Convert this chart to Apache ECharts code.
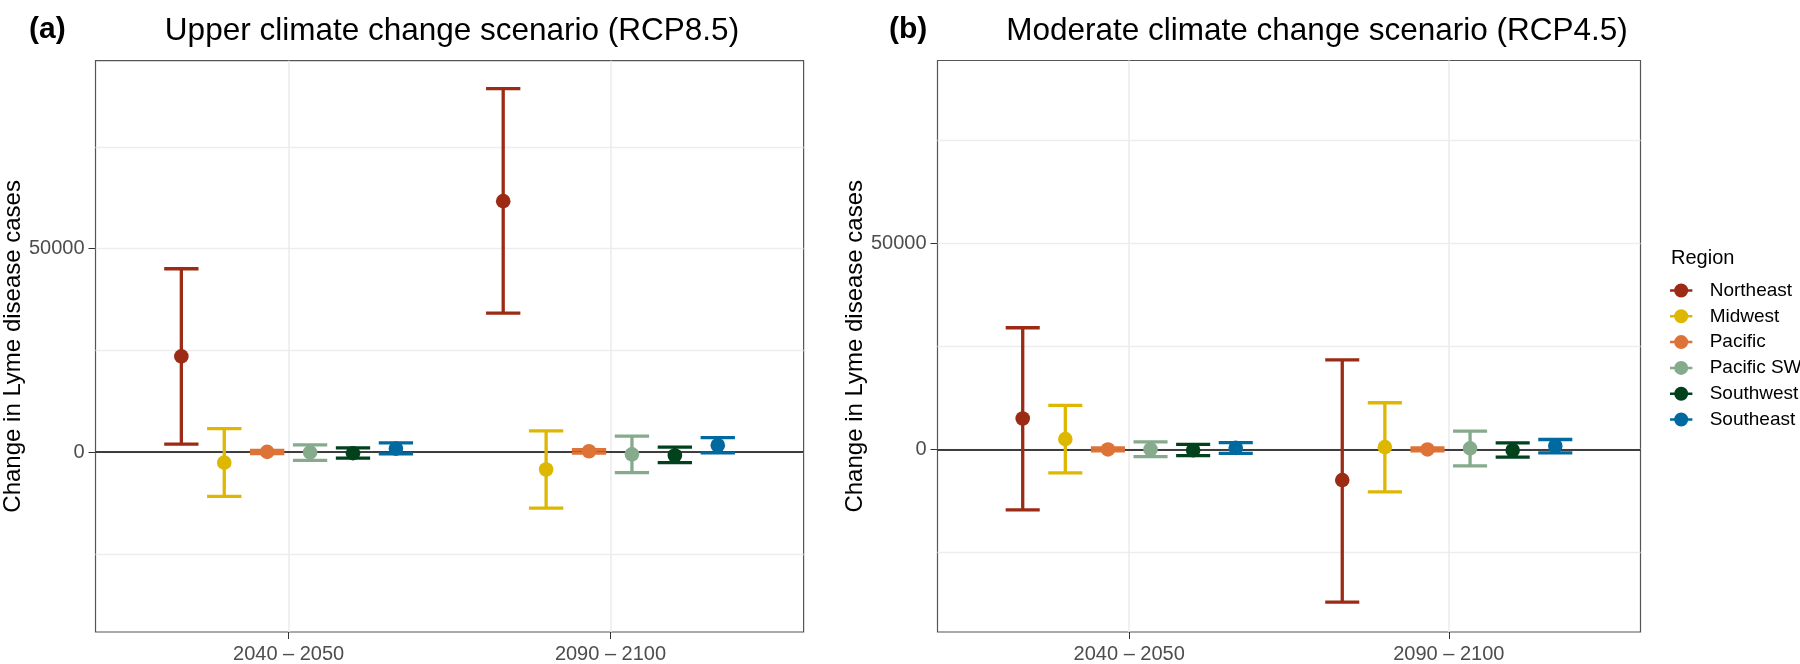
<!DOCTYPE html>
<html>
<head>
<meta charset="utf-8">
<script src="https://cdn.jsdelivr.net/npm/echarts@6/dist/echarts.min.js"></script>
<style>
html,body{margin:0;padding:0;background:#fff;}
#chart{width:1800px;height:664px;}
</style>
</head>
<body>
<div id="chart"></div>
<script>
// ---- data ----
const regions = ['Northeast', 'Midwest', 'Pacific', 'Pacific SW', 'Southwest', 'Southeast'];
const regionColors = ['#9B2B14', '#DDB700', '#DE7338', '#85AA8C', '#01411C', '#0069A0'];
const periods = ['2040 \u2013 2050', '2090 \u2013 2100'];
const yTickLabels = [0, 50000];
const yMinorGrid = [-25000, 0, 25000, 50000, 75000];

// RCP8.5 (upper scenario): per region [2040-2050, 2090-2100]
const rcp85Mean  = [[23500, 61660], [-2610, -4290], [50, 190], [-100, -560], [-280, -840], [840, 1680]];
const rcp85Lower = [[1960, 34140], [-10900, -13800], [-350, -250], [-2050, -5040], [-1490, -2610], [-470, -190]];
const rcp85Upper = [[45050, 89300], [5780, 5220], [400, 600], [1770, 3920], [1030, 1210], [2240, 3540]];

// RCP4.5 (moderate scenario)
const rcp45Mean  = [[7510, -7420], [2500, 560], [0, 0], [0, 280], [-190, -190], [370, 830]];
const rcp45Lower = [[-14660, -37000], [-5660, -10300], [-350, -350], [-1760, -3990], [-1480, -1860], [-930, -830]];
const rcp45Upper = [[29500, 21700], [10670, 11320], [350, 350], [1860, 4450], [1210, 1580], [1670, 2410]];

// ---- layout ----
const FONT = 'Liberation Sans, Arial, Helvetica, sans-serif';
const dodge = 0.8 / 6;
const capHalf = 0.0533;

function renderItem(params, api) {
  const x = api.value(0), lo = api.value(1), hi = api.value(2), m = api.value(3);
  const pLo = api.coord([x, lo]), pHi = api.coord([x, hi]), pM = api.coord([x, m]);
  const xl = api.coord([x - capHalf, hi])[0], xr = api.coord([x + capHalf, hi])[0];
  const color = api.visual('color');
  const ls = {stroke: color, lineWidth: 3.3, fill: null};
  return {
    type: 'group',
    children: [
      {type: 'line', shape: {x1: pLo[0], y1: pLo[1], x2: pHi[0], y2: pHi[1]}, style: ls},
      {type: 'line', shape: {x1: xl, y1: pHi[1], x2: xr, y2: pHi[1]}, style: ls},
      {type: 'line', shape: {x1: xl, y1: pLo[1], x2: xr, y2: pLo[1]}, style: ls},
      {type: 'circle', shape: {cx: pM[0], cy: pM[1], r: 7.3}, style: {fill: color}}
    ]
  };
}

function buildSeries(gridIdx, mean, lower, upper) {
  return regions.map((name, i) => {
    const data = periods.map((p, j) => [j + 1 + (i - 2.5) * dodge, lower[i][j], upper[i][j], mean[i][j]]);
    const s = {
      type: 'custom',
      name: name,
      xAxisIndex: gridIdx,
      yAxisIndex: gridIdx * 2,
      renderItem: renderItem,
      itemStyle: {color: regionColors[i]},
      encode: {x: 0, y: [1, 2, 3]},
      data: data,
      z: 3,
      silent: true
    };
    if (i === 0) {
      s.markLine = {
        silent: true, symbol: 'none', z: 2,
        label: {show: false},
        lineStyle: {color: '#000', width: 1.5, type: 'solid'},
        emphasis: {disabled: true},
        data: [{yAxis: 0}]
      };
    }
    return s;
  });
}

const grids = [
  {left: 94, top: 60.7, width: 709.6, height: 576, show: true, borderColor: '#555', borderWidth: 1.2, backgroundColor: '#fff'},
  {left: 937.5, top: 60.5, width: 703, height: 571.5, show: true, borderColor: '#555', borderWidth: 1.2, backgroundColor: '#fff'}
];
const yRanges = [[-44220, 96170], [-44250, 94280]];

function xAxis(gi) {
  return {
    type: 'value', gridIndex: gi, min: 0.4, max: 2.6,
    axisLine: {show: false, onZero: false},
    axisTick: {show: true, length: 7, lineStyle: {color: '#333', width: 1}, customValues: [1, 2]},
    axisLabel: {show: true, customValues: [1, 2], color: '#4D4D4D', fontSize: 20, fontFamily: FONT, margin: 12,
      formatter: v => periods[Math.round(v) - 1]},
    splitLine: {show: true, lineStyle: {color: '#EBEBEB', width: 1.5}}
  };
}
function yAxes(gi) {
  return [{
    type: 'value', gridIndex: gi, min: yRanges[gi][0], max: yRanges[gi][1],
    name: 'Change in Lyme disease cases', nameLocation: 'middle', nameGap: 65, nameRotate: 90,
    nameTextStyle: {fontSize: 24, fontFamily: FONT, color: '#000'},
    axisLine: {show: false, onZero: false},
    axisTick: {show: true, length: 7, lineStyle: {color: '#333', width: 1}, customValues: yTickLabels},
    axisLabel: {show: true, customValues: yTickLabels, color: '#4D4D4D', fontSize: 20, fontFamily: FONT, margin: 11,
      formatter: v => String(v)},
    splitLine: {show: false}
  }, {
    type: 'value', gridIndex: gi, min: yRanges[gi][0], max: yRanges[gi][1],
    axisLine: {show: false, onZero: false},
    axisTick: {show: false, customValues: yMinorGrid},
    axisLabel: {show: false},
    splitLine: {show: true, lineStyle: {color: '#EDEDED', width: 1.3}}
  }];
}

const legendIcon = 'path://M0,5.7 L23,5.7 L23,8.3 L0,8.3 Z M4.3,7 A7.2,7.2 0 1,1 18.7,7 A7.2,7.2 0 1,1 4.3,7 Z';

const option = {
  animation: false,
  backgroundColor: '#fff',
  title: [
    {text: '(a)', left: 29, top: 15, padding: 0, textStyle: {fontSize: 30, fontWeight: 'bold', fontFamily: FONT, color: '#000'}},
    {text: 'Upper climate change scenario (RCP8.5)', left: 452, top: 15, padding: 0, textAlign: 'center',
      textStyle: {fontSize: 31.5, fontWeight: 'normal', fontFamily: FONT, color: '#000'}},
    {text: '(b)', left: 889, top: 15, padding: 0, textStyle: {fontSize: 30, fontWeight: 'bold', fontFamily: FONT, color: '#000'}},
    {text: 'Moderate climate change scenario (RCP4.5)', left: 1317, top: 15, padding: 0, textAlign: 'center',
      textStyle: {fontSize: 31.5, fontWeight: 'normal', fontFamily: FONT, color: '#000'}},
    {text: 'Region', left: 1671, top: 248, padding: 0, textStyle: {fontSize: 20, fontWeight: 'normal', fontFamily: FONT, color: '#000'}}
  ],
  legend: {
    orient: 'vertical', left: 1670, top: 281, padding: 0,
    itemWidth: 23, itemHeight: 14, itemGap: 6.8,
    icon: legendIcon,
    data: regions,
    textStyle: {fontSize: 19, fontFamily: FONT, color: '#000', padding: [0, 0, 0, 12]},
    selectedMode: false
  },
  grid: grids,
  xAxis: [xAxis(0), xAxis(1)],
  yAxis: [...yAxes(0), ...yAxes(1)],
  series: [
    ...buildSeries(0, rcp85Mean, rcp85Lower, rcp85Upper),
    ...buildSeries(1, rcp45Mean, rcp45Lower, rcp45Upper)
  ]
};

const chart = echarts.init(document.getElementById('chart'), null, {renderer: 'canvas'});
chart.setOption(option);
</script>
</body>
</html>
